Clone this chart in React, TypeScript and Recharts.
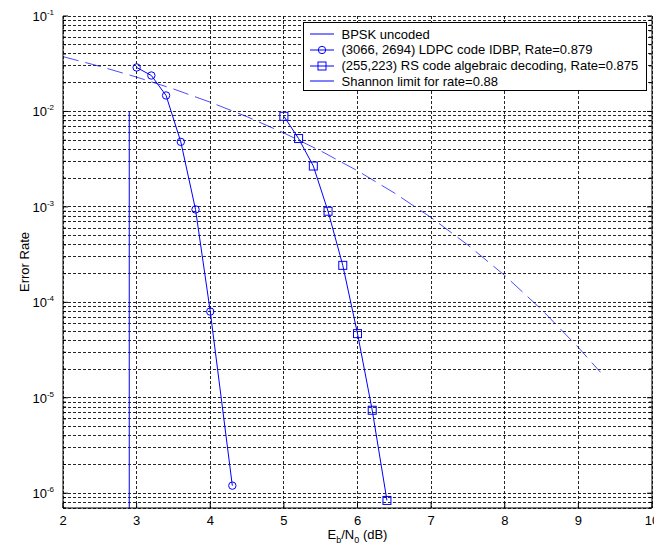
import React from 'react';
import { LineChart, Line, XAxis, YAxis, CartesianGrid, Legend } from 'recharts';

const BPSK_EBN0 = [2, 2.5, 3, 3.5, 4, 4.5, 5, 5.5, 6, 6.5, 7, 7.5, 8, 8.5, 9, 9.3];
const BPSK_BER = [3.75e-2, 2.97e-2, 2.29e-2, 1.72e-2, 1.25e-2, 8.8e-3, 5.95e-3, 3.86e-3, 2.39e-3, 1.4e-3, 7.73e-4, 3.98e-4, 1.91e-4, 8.4e-5, 3.36e-5, 1.85e-5];

const LDPC_EBN0 = [3, 3.2, 3.4, 3.6, 3.8, 4.0, 4.3];
const LDPC_BER = [2.89e-2, 2.38e-2, 1.47e-2, 4.8e-3, 9.4e-4, 8.0e-5, 1.2e-6];

const RS_EBN0 = [5, 5.2, 5.4, 5.6, 5.8, 6.0, 6.2, 6.4];
const RS_BER = [8.9e-3, 5.2e-3, 2.68e-3, 9.0e-4, 2.44e-4, 4.7e-5, 7.4e-6, 8.4e-7];

const SHANNON_EBN0 = [2.9, 2.9];
const SHANNON_BER = [1e-2, 7e-7];

const X_TICKS = [2, 3, 4, 5, 6, 7, 8, 9, 10];
const Y_EXPONENTS = [-7, -6, -5, -4, -3, -2, -1];
const Y_MULTS = [1, 2, 3, 4, 5, 6, 7, 8, 9];
const Y_MIN = 7e-7;
const Y_MAX = 1e-1;

const LEGEND_LABELS = [
  'BPSK uncoded',
  '(3066, 2694) LDPC code IDBP, Rate=0.879',
  '(255,223) RS code algebraic decoding, Rate=0.875',
  'Shannon limit for rate=0.88',
];

const Y_TICKS: number[] = [];
Y_EXPONENTS.forEach((e) => {
  Y_MULTS.forEach((m) => {
    const v = parseFloat((m * Math.pow(10, e)).toPrecision(3));
    if (v >= Y_MIN * 0.999 && v <= Y_MAX * 1.001) Y_TICKS.push(v);
  });
});

const zip = (xs: number[], ys: number[]) => xs.map((x, i) => ({ x, y: ys[i] }));
const bpsk = zip(BPSK_EBN0, BPSK_BER);
const ldpc = zip(LDPC_EBN0, LDPC_BER);
const rs = zip(RS_EBN0, RS_BER);
const shannon = zip(SHANNON_EBN0, SHANNON_BER);

const BLUE = '#0000ff';
const FONT = '"Liberation Sans", Arial, Helvetica, sans-serif';

const isDecade = (v: number) => {
  const l = Math.log10(v);
  return Math.abs(l - Math.round(l)) < 1e-6;
};

const LeftTick = (props: any) => {
  const { x, y, payload } = props;
  const v = payload.value;
  const dec = isDecade(v);
  const axisX = x + 8;
  return (
    <g>
      <line x1={axisX} x2={axisX + (dec ? 5 : 3)} y1={y} y2={y} stroke="#000" />
      {dec ? (
        <text x={x - 1} y={y + 5} textAnchor="end" fontSize={13} fontFamily={FONT} fill="#000">
          10
          <tspan dy={-6} fontSize={8}>{String(Math.round(Math.log10(v)))}</tspan>
        </text>
      ) : null}
    </g>
  );
};

const RightTick = (props: any) => {
  const { x, y, payload } = props;
  const dec = isDecade(payload.value);
  return (
    <g>
      <line x1={x} x2={x - (dec ? 5 : 3)} y1={y} y2={y} stroke="#000" />
    </g>
  );
};

const BottomTick = (props: any) => {
  const { x, y, payload } = props;
  const axisY = y - 6;
  return (
    <g>
      <line x1={x} x2={x} y1={axisY} y2={axisY - 5} stroke="#000" />
      <text x={x} y={y + 11} textAnchor="middle" fontSize={13} fontFamily={FONT} fill="#000">
        {payload.value}
      </text>
    </g>
  );
};

const TopTick = (props: any) => {
  const { x, y } = props;
  return <line x1={x} x2={x} y1={y} y2={y + 5} stroke="#000" />;
};

const SquareDot = (p: any) => {
  if (p.cx == null || p.cy == null) return <g key={p.index} />;
  return (
    <rect key={p.index} x={p.cx - 4} y={p.cy - 4} width={8} height={8} fill="none" stroke={BLUE} strokeWidth={1} />
  );
};

const XLabel = (props: any) => {
  const vb = props.viewBox || {};
  const cx = vb.x + vb.width / 2;
  const y = vb.y + 31;
  return (
    <text x={cx} y={y} textAnchor="middle" fontSize={13} fontFamily={FONT} fill="#000">
      E<tspan dy={4} fontSize={9}>b</tspan>
      <tspan dy={-4}>/N</tspan>
      <tspan dy={4} fontSize={9}>0</tspan>
      <tspan dy={-4}> (dB)</tspan>
    </text>
  );
};

const YLabel = (props: any) => {
  const vb = props.viewBox || {};
  const cy = vb.y + vb.height / 2;
  const x = 20.5;
  return (
    <text x={x} y={cy} textAnchor="middle" fontSize={13} fontFamily={FONT} fill="#000" transform={`rotate(-90, ${x}, ${cy})`}>
      Error Rate
    </text>
  );
};

const LegendSample = ({ marker }: { marker: string }) => (
  <svg width={26} height={12} style={{ display: 'block' }}>
    <line x1={1} x2={25} y1={6} y2={6} stroke={BLUE} strokeWidth={1} />
    {marker === 'circle' ? <circle cx={13} cy={6} r={3.7} fill="none" stroke={BLUE} /> : null}
    {marker === 'square' ? <rect x={9} y={2} width={8} height={8} fill="none" stroke={BLUE} /> : null}
  </svg>
);

const LEGEND_MARKERS = ['none', 'circle', 'square', 'none'];

const LegendBox = () => (
  <div
    style={{
      width: 344,
      height: 69,
      boxSizing: 'border-box',
      border: '1px solid #000',
      background: '#fff',
      padding: '3px 0 0 5px',
      fontFamily: FONT,
      fontSize: 13,
      color: '#000',
    }}
  >
    {LEGEND_LABELS.map((label, i) => (
      <div key={label} style={{ display: 'flex', alignItems: 'center', height: 15.7, whiteSpace: 'nowrap' }}>
        <LegendSample marker={LEGEND_MARKERS[i]} />
        <span style={{ marginLeft: 7 }}>{label}</span>
      </div>
    ))}
  </div>
);

export default function App() {
  return (
    <div style={{ width: 654, height: 539 }}>
      <LineChart width={654} height={539} margin={{ top: 8, right: 0, left: 0, bottom: 0 }}>
        <CartesianGrid
          xAxisId="b"
          yAxisId="l"
          stroke="#000"
          strokeDasharray="3 2"
          strokeWidth={1}
          strokeOpacity={0.85}
          shapeRendering="crispEdges"
        />
        <XAxis
          xAxisId="b"
          dataKey="x"
          type="number"
          domain={[2, 10]}
          ticks={X_TICKS}
          allowDataOverflow
          height={39}
          tickSize={0}
          tickMargin={6}
          tickLine={false}
          axisLine={{ stroke: '#000' }}
          tick={<BottomTick />}
          interval={0}
          label={<XLabel />}
        />
        <XAxis
          xAxisId="t"
          orientation="top"
          dataKey="x"
          type="number"
          domain={[2, 10]}
          ticks={X_TICKS}
          allowDataOverflow
          height={0}
          tickSize={0}
          tickMargin={0}
          tickLine={false}
          axisLine={{ stroke: '#000' }}
          tick={<TopTick />}
          interval={0}
        />
        <YAxis
          yAxisId="l"
          type="number"
          scale="log"
          domain={[Y_MIN, Y_MAX]}
          ticks={Y_TICKS}
          allowDataOverflow
          width={55}
          tickSize={0}
          tickMargin={8}
          tickLine={false}
          axisLine={{ stroke: '#000' }}
          tick={<LeftTick />}
          interval={0}
          label={<YLabel />}
        />
        <YAxis
          yAxisId="r"
          orientation="right"
          type="number"
          scale="log"
          domain={[Y_MIN, Y_MAX]}
          ticks={Y_TICKS}
          allowDataOverflow
          width={10}
          tickSize={0}
          tickMargin={0}
          tickLine={false}
          axisLine={{ stroke: '#000' }}
          tick={<RightTick />}
          interval={0}
        />
        <Line
          xAxisId="b"
          yAxisId="l"
          data={bpsk}
          dataKey="y"
          type="linear"
          stroke={BLUE}
          strokeOpacity={0.7}
          strokeWidth={1}
          strokeDasharray="16 7"
          dot={false}
          isAnimationActive={false}
        />
        <Line
          xAxisId="b"
          yAxisId="l"
          data={ldpc}
          dataKey="y"
          type="linear"
          stroke={BLUE}
          strokeWidth={1}
          dot={{ r: 3.7, fill: 'none', stroke: BLUE, strokeWidth: 1 }}
          isAnimationActive={false}
        />
        <Line
          xAxisId="b"
          yAxisId="l"
          data={rs}
          dataKey="y"
          type="linear"
          stroke={BLUE}
          strokeWidth={1}
          dot={<SquareDot />}
          isAnimationActive={false}
        />
        <Line
          xAxisId="b"
          yAxisId="l"
          data={shannon}
          dataKey="y"
          type="linear"
          stroke={BLUE}
          strokeWidth={1}
          dot={false}
          isAnimationActive={false}
        />
        <Legend
          layout="vertical"
          align="center"
          verticalAlign="middle"
          content={<LegendBox />}
          wrapperStyle={{ left: 294.5, top: 14.3, width: 344, height: 69 }}
        />
      </LineChart>
    </div>
  );
}
